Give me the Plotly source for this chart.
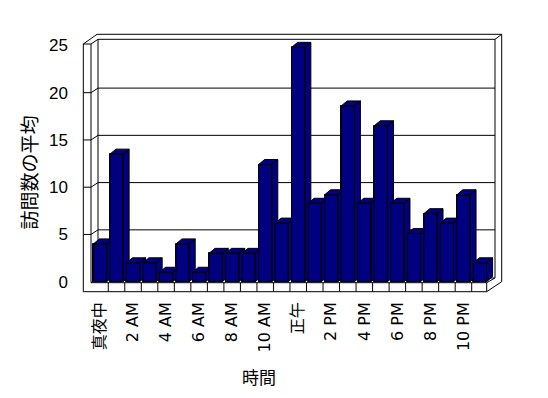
import plotly.graph_objects as go

# ---------------- data ----------------
hours = ["真夜中", "1 AM", "2 AM", "3 AM", "4 AM", "5 AM", "6 AM", "7 AM", "8 AM",
         "9 AM", "10 AM", "11 AM", "正午", "1 PM", "2 PM", "3 PM", "4 PM", "5 PM",
         "6 PM", "7 PM", "8 PM", "9 PM", "10 PM", "11 PM"]
visits = [4, 13.5, 2, 2, 1, 4, 1, 3, 3, 3, 12.4, 6.2,
          24.8, 8.3, 9.2, 18.6, 8.3, 16.5, 8.3, 5.1, 7.2, 6.2, 9.2, 2]
tick_labels = ["真夜中", "2 AM", "4 AM", "6 AM", "8 AM", "10 AM",
               "正午", "2 PM", "4 PM", "6 PM", "8 PM", "10 PM"]
y_ticks = [0, 5, 10, 15, 20, 25]
y_title = "訪問数の平均"
x_title = "時間"

# ---------------- geometry (page pixels) ----------------
PAGE_OFF = 8                      # default body margin of the html page
W, H = 548 - 2 * PAGE_OFF, 398 - 2 * PAGE_OFF
L, R, T, B = 80, 504, 30, 295      # plot area in page pixels
X0PX, XSTEP = 100.0, 16.52         # centre of first category, px per category
Y0PX, YSTEP = 281.7, 9.45          # y=0 pixel, px per unit


def dx(px):
    return (px - X0PX) / XSTEP


def dy(py):
    return (Y0PX - py) / YSTEP


def ppx(px):
    return (px - L) / (R - L)


def ppy(py):
    return (B - py) / (B - T)


NAVY = "#000080"
BW = 0.4                 # half bar width (categories)
DX = 6 / XSTEP           # bar depth offset x
DY = 5 / YSTEP           # bar depth offset y
WY = 4.6 / YSTEP         # wall depth offset y

fig = go.Figure()

xs = list(range(len(hours)))
fig.add_trace(go.Bar(x=xs, y=visits, width=2 * BW,
                     marker=dict(color=NAVY, line=dict(color="black", width=1)),
                     hovertext=hours, showlegend=False))

# 3D faces for each bar, drawn in order so later bars occlude earlier sides
for i, v in zip(xs, visits):
    px_, py_ = [], []
    px_ += [i + BW, i + BW + DX, i + BW + DX, i + BW, i + BW, None]
    py_ += [0, DY, v + DY, v, 0, None]
    px_ += [i - BW, i - BW + DX, i + BW + DX, i + BW, i - BW, None]
    py_ += [v, v + DY, v + DY, v, v, None]
    px_ += [i - BW, i + BW, i + BW, i - BW, i - BW]
    py_ += [0, 0, v, v, 0]
    fig.add_trace(go.Scatter(x=px_, y=py_, mode="lines", fill="toself", fillcolor=NAVY,
                             line=dict(color="black", width=1), hoverinfo="skip", showlegend=False))

shapes = []
LINE = dict(color="black", width=1)


def seg(x1, y1, x2, y2):
    shapes.append(dict(type="line", xref="x", yref="y", x0=dx(x1), y0=dy(y1), x1=dx(x2), y1=dy(y2),
                       line=LINE, layer="below"))


outline = [(83.3, 291.7), (83.3, 44), (97, 34.3), (501.7, 34.3), (501.7, 281.7), (486.7, 291.7), (83.3, 291.7)]
for a, b in zip(outline[:-1], outline[1:]):
    seg(a[0], a[1], b[0], b[1])

seg(91, 44, 91, 282.7)
seg(83.3, 44, 91, 44)
seg(91, 44, 98, 39.3)
seg(98, 39.3, 98, 278)
seg(98, 39.3, 495, 39.3)
seg(495, 39.3, 501.7, 34.3)
seg(495, 39.3, 495, 278)
seg(98, 278, 495, 278)
seg(91, 282.7, 486.7, 282.7)
seg(486.7, 282.7, 486.7, 291.7)
seg(486.7, 282.7, 495, 278)
seg(91, 282.7, 98, 278)
for k in range(len(hours) - 1):
    xb = k + 0.5
    shapes.append(dict(type="line", xref="x", yref="y", x0=xb, x1=xb, y0=dy(282.7), y1=dy(291.7),
                       line=LINE, layer="below"))

for v in y_ticks[1:-1]:
    shapes.append(dict(type="line", xref="x", yref="y", x0=dx(83.3), x1=dx(91), y0=v, y1=v,
                       line=LINE, layer="below"))
    shapes.append(dict(type="line", xref="x", yref="y", x0=dx(91), x1=dx(98), y0=v, y1=v + WY,
                       line=LINE, layer="below"))
    shapes.append(dict(type="line", xref="x", yref="y", x0=dx(98), x1=dx(495), y0=v + WY, y1=v + WY,
                       line=LINE, layer="below"))

FONT = "Liberation Sans, Noto Sans CJK JP, sans-serif"
XFONT = "DejaVu Sans, Noto Sans CJK JP, sans-serif"
CJK = "Noto Sans CJK JP, sans-serif"

fig.update_layout(
    width=W, height=H,
    margin=dict(l=L - PAGE_OFF, r=W - (R - PAGE_OFF), t=T - PAGE_OFF, b=H - (B - PAGE_OFF), pad=0),
    paper_bgcolor="white", plot_bgcolor="white",
    shapes=shapes,
    showlegend=False,
    bargap=0,
    font=dict(family=FONT, color="black", size=17),
    xaxis=dict(range=[dx(L), dx(R)], tickmode="array", tickvals=xs[::2], ticktext=tick_labels,
               tickangle=-90, showgrid=False, zeroline=False, showline=False, ticks="",
               ticklabelstandoff=3, tickfont=dict(size=16, family=XFONT), fixedrange=True,
               automargin=False),
    yaxis=dict(range=[dy(B), dy(T)], tickmode="array", tickvals=y_ticks,
               ticktext=[str(t) for t in y_ticks], showgrid=False, zeroline=False, showline=False,
               ticks="", ticklabelstandoff=11, tickfont=dict(size=17), fixedrange=True, automargin=False),
    annotations=[
        dict(text=y_title, xref="paper", yref="paper", x=ppx(28), y=ppy(172.5), showarrow=False,
             textangle=-90, font=dict(size=19, family=CJK), xanchor="center", yanchor="middle"),
        dict(text=x_title, xref="paper", yref="paper", x=ppx(259), y=ppy(376), showarrow=False,
             font=dict(size=17, family=CJK), xanchor="center", yanchor="middle"),
    ],
)

fig.write_html("out.html")
